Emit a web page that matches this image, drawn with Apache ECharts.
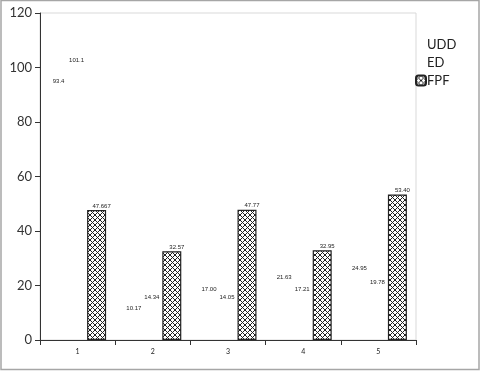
<!DOCTYPE html>
<html><head><meta charset="utf-8">
<script src="https://cdn.jsdelivr.net/npm/echarts@6/dist/echarts.min.js"></script>
<style>html,body{margin:0;padding:0;background:#fff}#c{width:480px;height:371px}</style>
</head><body><div id="c"></div>
<script>
const categories = ['1','2','3','4','5'];
const udd = [93.4, 10.17, 17.00, 21.63, 24.95];
const ed = [101.1, 14.34, 14.05, 17.21, 19.78];
const fpf = [47.667, 32.57, 47.77, 32.95, 53.40];
const uddLabels = ['93.4','10.17','17.00','21.63','24.95'];
const edLabels = ['101.1','14.34','14.05','17.21','19.78'];
const fpfLabels = ['47.667','32.57','47.77','32.95','53.40'];
const yTicks = [0,20,40,60,80,100,120];

function hatch(){
  const c = document.createElement('canvas');
  c.width = 5; c.height = 5;
  const g = c.getContext('2d');
  g.fillStyle = '#fff'; g.fillRect(0,0,5,5);
  g.strokeStyle = '#222'; g.lineWidth = 1;
  g.beginPath();
  g.moveTo(0,0); g.lineTo(5,5);
  g.moveTo(5,0); g.lineTo(0,5);
  g.stroke();
  return c;
}
const pat = {image: hatch(), repeat: 'repeat'};
const font = 'Lato, "Open Sans", sans-serif';
const lbl = (arr, dx) => ({show:true, position:'top', distance:1, fontSize:6, color:'#222', fontFamily:'"Liberation Sans", Arial, sans-serif', offset:[dx,0],
  formatter: p => arr[p.dataIndex]});

const chart = echarts.init(document.getElementById('c'), null, {renderer:'canvas'});
chart.setOption({
  animation:false,
  grid:{left:40, top:13, right:64, bottom:31, show:true, borderColor:'#d9d9d9', borderWidth:1, backgroundColor:'transparent'},
  legend:{
    orient:'vertical', left:410, top:33, itemWidth:10, itemHeight:10, itemGap:5,
    textStyle:{fontSize:13, color:'#222', fontFamily:font, padding:[0,0,0,-4]},
    data:[
      {name:'UDD', itemStyle:{color:'transparent', borderColor:'transparent'}},
      {name:'ED', itemStyle:{color:'transparent', borderColor:'transparent'}},
      {name:'FPF'}
    ]
  },
  xAxis:{
    type:'category', data:categories,
    axisLine:{lineStyle:{color:'#333', width:1}},
    axisTick:{show:true, length:5, lineStyle:{color:'#333'}},
    axisLabel:{fontSize:7, color:'#222', margin:8, fontFamily:font},
    splitLine:{show:false}
  },
  yAxis:{
    type:'value', min:0, max:120, interval:20,
    axisLine:{show:true, lineStyle:{color:'#333', width:1}},
    axisTick:{show:true, length:5, lineStyle:{color:'#333'}},
    axisLabel:{fontSize:13, color:'#333', margin:8, fontFamily:font,
      formatter: v => yTicks.includes(v) ? String(v) : ''},
    splitLine:{show:false}
  },
  series:[
    {name:'UDD', type:'bar', data:udd, barWidth:19, barGap:0, z:3,
      itemStyle:{color:'transparent'}, label:lbl(uddLabels, 0)},
    {name:'ED', type:'bar', data:ed, barWidth:19, barGap:0, z:3,
      itemStyle:{color:'transparent'}, label:lbl(edLabels, -1)},
    {name:'FPF', type:'bar', data:fpf, barWidth:19, barGap:0, z:2,
      itemStyle:{color:pat, borderColor:'#222', borderWidth:1.2}, label:lbl(fpfLabels, 5)}
  ],
  graphic:[
    {type:'rect', shape:{x:1,y:0.5,width:478,height:369}, style:{fill:'none', stroke:'#a6a6a6', lineWidth:1.5}}
  ]
});
</script></body></html>
